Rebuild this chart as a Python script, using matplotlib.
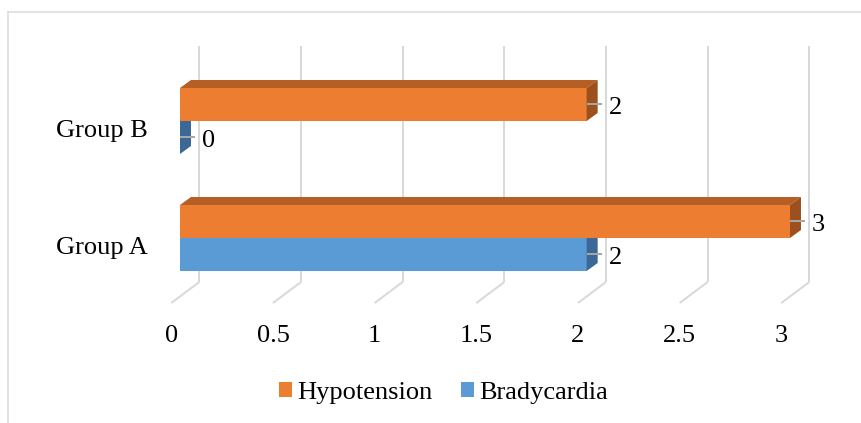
import matplotlib
matplotlib.use('Agg')
import matplotlib.pyplot as plt
from matplotlib.patches import Polygon, Patch
from matplotlib.lines import Line2D

# ---- data ----
categories = ['Group A', 'Group B']
series_names = ['Hypotension', 'Bradycardia']
hypotension = [3, 2]
bradycardia = [2, 0]
ticks = [0, 0.5, 1, 1.5, 2, 2.5, 3]
tick_labels = ['0', '0.5', '1', '1.5', '2', '2.5', '3']

# ---- style ----
W, H, DPI = 862, 423, 100
ORANGE, ORANGE_TOP, ORANGE_SIDE = '#ED7D31', '#B65E24', '#9C501E'
BLUE, BLUE_TOP, BLUE_SIDE = '#5B9BD5', '#41709C', '#3B6895'
GRID = '#D9D9D9'
LEADER = '#A6A6A6'
FONT = dict(family='Liberation Serif', size=19, color='black')

fig = plt.figure(figsize=(W / DPI, H / DPI), dpi=DPI)
ax = fig.add_axes([0, 0, 1, 1])
ax.axis('off')

PX = 203.33   # pixels per value unit
PY = 117.0    # pixels per category step
X0, Y0 = 180, 238   # pixel position of value 0 / Group A centre
ax.set_xlim(-X0 / PX, (W - X0) / PX)
ax.set_ylim((Y0 - H) / PY, Y0 / PY)


def dx(p):
    return p / PX


def dy(p):
    return p / PY


lw_px = 72.0 / DPI  # 1 pixel in points

# ---- back wall gridlines and floor ----
for v, lab in zip(ticks, tick_labels):
    bx = v + dx(19.3)
    ax.plot([bx, bx], [dy(-44), dy(192)], color=GRID, lw=2 * lw_px, zorder=1,
            solid_capstyle='butt')
    ax.plot([bx, v + dx(-8.7)], [dy(-44), dy(-65)], color=GRID, lw=2 * lw_px,
            zorder=1, solid_capstyle='butt')
    ax.text(v + dx(-8.7), dy(-104), lab, ha='center', va='baseline', **FONT)

# ---- bars ----
h = dy(33)
ddx, ddy = dx(11), dy(8)


def bar3d(y_lo, val, front, top, side, z):
    y_hi = y_lo + h
    if val > 0:
        ax.barh(y_lo, val, height=h, align='edge', color=front, zorder=z,
                linewidth=0)
    ax.add_patch(Polygon([(0, y_hi), (ddx, y_hi + ddy), (val + ddx, y_hi + ddy),
                          (val, y_hi)], closed=True, facecolor=top,
                         edgecolor='none', zorder=z))
    ax.add_patch(Polygon([(val, y_lo), (val + ddx, y_lo + ddy),
                          (val + ddx, y_hi + ddy), (val, y_hi)], closed=True,
                         facecolor=side, edgecolor='none', zorder=z))
    yc = y_lo + h / 2
    ax.plot([val, val + dx(15)], [yc, yc], color=LEADER, lw=2 * lw_px,
            zorder=z + 0.5, solid_capstyle='butt')
    ax.text(val + dx(22), yc + dy(-9.5), f'{val:g}', ha='left', va='baseline',
            zorder=z + 1, **FONT)


for i, cat in enumerate(categories):
    bar3d(i - h, bradycardia[i], BLUE, BLUE_TOP, BLUE_SIDE, 3 + i * 2)
    bar3d(i, hypotension[i], ORANGE, ORANGE_TOP, ORANGE_SIDE, 4 + i * 2)
    ax.text(dx(-32), i + dy(-16), cat, ha='right', va='baseline', **FONT)

# ---- legend ----
handles = [Patch(facecolor=ORANGE, edgecolor='none'),
           Patch(facecolor=BLUE, edgecolor='none')]
ax.legend(handles, series_names, loc='center',
          bbox_to_anchor=(443.5 / W, 1 - 392.5 / H), ncol=2, frameon=False,
          handlelength=0.49, handleheight=0.49, handletextpad=0.2,
          columnspacing=1.1, borderpad=0,
          prop={'family': 'Liberation Serif', 'size': 19})

# ---- chart border ----
fig.add_artist(Line2D([8 / W, 1.05], [1 - 12 / H, 1 - 12 / H], color=GRID,
                      lw=1.5 * lw_px, transform=fig.transFigure))
fig.add_artist(Line2D([8 / W, 8 / W], [1 - 12 / H, -0.05], color=GRID,
                      lw=1.5 * lw_px, transform=fig.transFigure))

fig.savefig('out.png', dpi=DPI)
